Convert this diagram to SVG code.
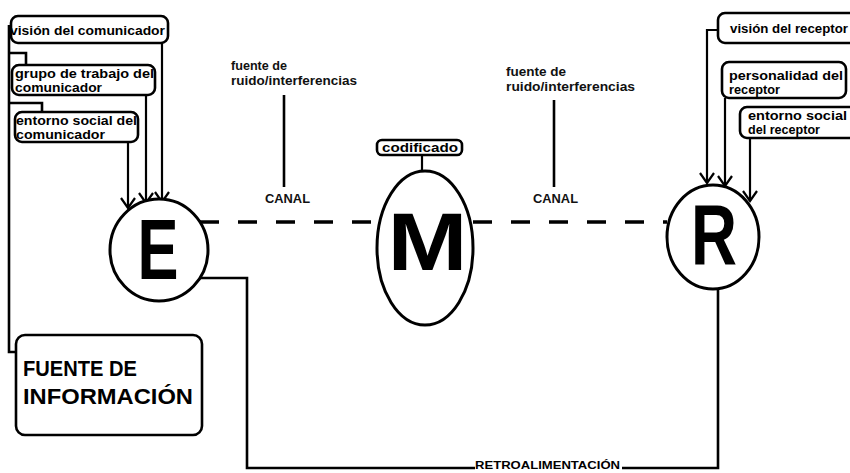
<svg xmlns="http://www.w3.org/2000/svg" width="850" height="473" viewBox="0 0 850 473">
<defs>
<style>
.box{fill:#fff;stroke:#000;stroke-width:2.6}
.ln{fill:none;stroke:#000;stroke-width:2.6}
.thin{fill:none;stroke:#000;stroke-width:2.2}
.dash{fill:none;stroke:#000;stroke-width:3.5;stroke-dasharray:19 19}
.node{fill:#fff;stroke:#000;stroke-width:3}
.t{font-family:"Liberation Sans",Arial,sans-serif;font-weight:bold;font-size:13px;fill:#000}
.n{font-family:"Liberation Sans",Arial,sans-serif;font-weight:bold;font-size:12.5px;fill:#111}
.big{font-family:"Liberation Sans",Arial,sans-serif;font-weight:bold;font-size:85px;fill:#000;text-anchor:middle}
.fi{font-family:"Liberation Sans",Arial,sans-serif;font-weight:bold;font-size:22px;fill:#000}
</style>
<marker id="arr" viewBox="-12 -9 14 18" markerWidth="14" markerHeight="18" refX="0" refY="0" orient="auto" markerUnits="userSpaceOnUse">
<path d="M-10,-7 L0,0 L-10,7" fill="none" stroke="#000" stroke-width="2.2"/>
</marker>
</defs>
<rect width="850" height="473" fill="#fff"/>

<g id="connectors">
<path class="ln" d="M9 25 V352 H16"/>
<path class="ln" d="M9 53 H26 V65"/>
<path class="ln" d="M9 103 H42 V112"/>
<path class="thin" d="M162 43 V202" marker-end="url(#arr)"/>
<path class="thin" d="M146 95 V203" marker-end="url(#arr)"/>
<path class="thin" d="M128 142 V208" marker-end="url(#arr)"/>
<path class="thin" d="M718 30 H707 V183" marker-end="url(#arr)"/>
<path class="thin" d="M725 98 V186" marker-end="url(#arr)"/>
<path class="thin" d="M750 138 V201" marker-end="url(#arr)"/>
<path class="dash" d="M200 222 H377"/>
<path class="dash" d="M473 222 H667"/>
<path class="ln" d="M284 95 V187"/>
<path class="ln" d="M554 100 V187"/>
<path class="thin" d="M422 155 V172"/>
<path class="ln" d="M200 278 H247 V468 H475"/>
<path class="ln" d="M622 468 H718 V290"/>
</g>

<g id="vision-comunicador">
<rect class="box" x="11" y="16" width="157" height="27" rx="7"/>
<text class="t" x="10" y="35" textLength="155" lengthAdjust="spacingAndGlyphs">visión del comunicador</text>
</g>
<g id="grupo-comunicador">
<rect class="box" x="12" y="65" width="143" height="30" rx="7"/>
<text class="t" x="15" y="78" textLength="139" lengthAdjust="spacingAndGlyphs">grupo de trabajo del</text>
<text class="t" x="15" y="92" textLength="87" lengthAdjust="spacingAndGlyphs">comunicador</text>
</g>
<g id="entorno-comunicador">
<rect class="box" x="15" y="112" width="123" height="30" rx="7"/>
<text class="t" x="16" y="125" textLength="121" lengthAdjust="spacingAndGlyphs">entorno social del</text>
<text class="t" x="16" y="139" textLength="89" lengthAdjust="spacingAndGlyphs">comunicador</text>
</g>
<g id="fuente-informacion">
<rect class="box" x="16" y="335" width="186" height="100" rx="9"/>
<text class="fi" x="23" y="376" textLength="114" lengthAdjust="spacingAndGlyphs">FUENTE DE</text>
<text class="fi" x="23" y="404" textLength="170" lengthAdjust="spacingAndGlyphs">INFORMACIÓN</text>
</g>

<g id="vision-receptor">
<rect class="box" x="718" y="13" width="145" height="30" rx="7"/>
<text class="t" x="730" y="33" textLength="118" lengthAdjust="spacingAndGlyphs">visión del receptor</text>
</g>
<g id="personalidad-receptor">
<rect class="box" x="722" y="62" width="124" height="36" rx="7"/>
<text class="t" x="729" y="80" textLength="114" lengthAdjust="spacingAndGlyphs">personalidad del</text>
<text class="t" x="729" y="94" textLength="51" lengthAdjust="spacingAndGlyphs">receptor</text>
</g>
<g id="entorno-receptor">
<rect class="box" x="740" y="107" width="120" height="31" rx="7"/>
<text class="t" x="748" y="120" textLength="99" lengthAdjust="spacingAndGlyphs">entorno social</text>
<text class="t" x="748" y="134" textLength="72" lengthAdjust="spacingAndGlyphs">del receptor</text>
</g>

<g id="ruido-1">
<text class="n" x="231" y="70" textLength="56" lengthAdjust="spacingAndGlyphs">fuente de</text>
<text class="n" x="231" y="85" textLength="126" lengthAdjust="spacingAndGlyphs">ruido/interferencias</text>
</g>
<g id="canal-1">
<text class="n" x="265" y="203" textLength="45" lengthAdjust="spacingAndGlyphs">CANAL</text>
</g>
<g id="ruido-2">
<text class="n" x="506" y="76" textLength="60" lengthAdjust="spacingAndGlyphs">fuente de</text>
<text class="n" x="506" y="91" textLength="129" lengthAdjust="spacingAndGlyphs">ruido/interferencias</text>
</g>
<g id="canal-2">
<text class="n" x="533" y="203" textLength="45" lengthAdjust="spacingAndGlyphs">CANAL</text>
</g>

<g id="codificado">
<rect class="box" x="377" y="140" width="85" height="15" rx="5"/>
<text class="t" x="382" y="152" textLength="76" lengthAdjust="spacingAndGlyphs">codificado</text>
</g>

<g id="E">
<ellipse class="node" cx="159" cy="250" rx="49" ry="51"/>
<text class="big" x="158" y="279" textLength="41" lengthAdjust="spacingAndGlyphs">E</text>
</g>
<g id="M">
<ellipse class="node" cx="425" cy="248" rx="48" ry="77"/>
<text class="big" x="427.5" y="270" textLength="80" lengthAdjust="spacingAndGlyphs" style="font-size:81px">M</text>
</g>
<g id="R">
<ellipse class="node" cx="713" cy="237" rx="46" ry="52"/>
<text class="big" x="714" y="264" textLength="46" lengthAdjust="spacingAndGlyphs">R</text>
</g>

<g id="retroalimentacion">
<text class="t" x="475" y="469" textLength="145" lengthAdjust="spacingAndGlyphs" style="font-size:11.5px">RETROALIMENTACIÓN</text>
</g>
</svg>
